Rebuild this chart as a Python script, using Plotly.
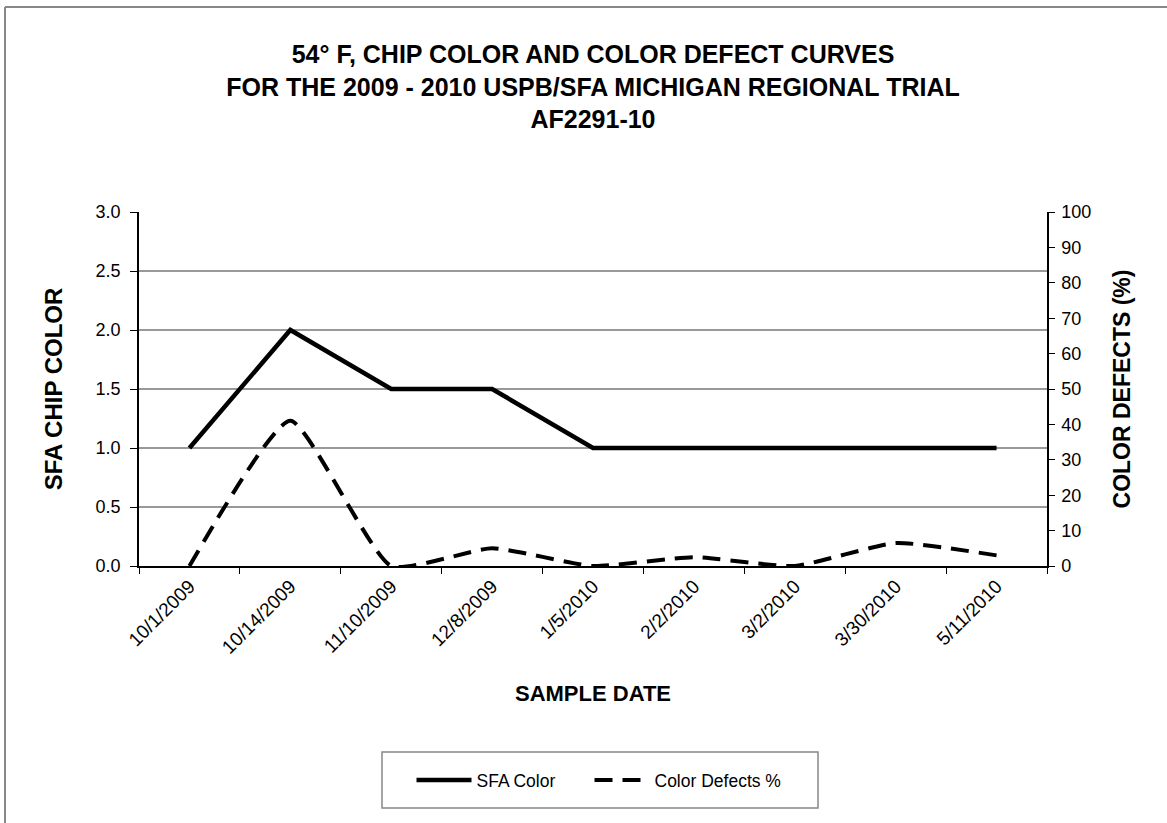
import plotly.graph_objects as go

dates = ["10/1/2009", "10/14/2009", "11/10/2009", "12/8/2009", "1/5/2010",
         "2/2/2010", "3/2/2010", "3/30/2010", "5/11/2010"]
sfa_color = [1.0, 2.0, 1.5, 1.5, 1.0, 1.0, 1.0, 1.0, 1.0]
color_defects = [0, 41, 0, 5, 0, 2.5, 0, 6.5, 3]

W, H = 1167, 823
ml, mr, mt, mb = 139, 120, 212, 257
pw, ph = W - ml - mr, H - mt - mb

def px_x(x):
    return (x - ml) / pw

def px_y(y):
    return (H - mb - y) / ph

fig = go.Figure()
fig.add_trace(go.Scatter(
    x=dates, y=sfa_color, name="SFA Color", mode="lines",
    line=dict(color="black", width=4.5), yaxis="y", legendwidth=108))
fig.add_trace(go.Scatter(
    x=dates, y=color_defects, name="Color Defects %", mode="lines",
    line=dict(color="black", width=4, dash="18px,10px", shape="spline", smoothing=0.5),
    yaxis="y2", legendwidth=135))

font = "Liberation Sans, Arial, sans-serif"

fig.update_layout(
    width=W, height=H,
    margin=dict(l=ml, r=mr, t=mt, b=mb, autoexpand=False),
    paper_bgcolor="white", plot_bgcolor="white",
    font=dict(family=font, size=17, color="black"),
    title=dict(
        text="54° F, CHIP COLOR AND COLOR DEFECT CURVES<br>FOR THE 2009 - 2010 USPB/SFA MICHIGAN REGIONAL TRIAL<br>AF2291-10",
        font=dict(family=font, size=25, color="black", weight="bold"),
        x=px_x(593), xref="paper", xanchor="center",
        y=1 - 63 / H, yanchor="top"),
    xaxis=dict(
        type="category", tickangle=-45, tickson="boundaries",
        ticks="outside", ticklen=6, tickcolor="black",
        showline=True, linecolor="black", linewidth=1.5,
        showgrid=False, tickfont=dict(size=19),
        title=dict(text="SAMPLE DATE", font=dict(size=22, weight="bold"), standoff=29),
        range=[-0.5, 8.5]),
    yaxis=dict(
        range=[0, 3.0], dtick=0.5, tickformat=".1f",
        ticks="outside", ticklen=7, tickcolor="black",
        showline=True, linecolor="black", linewidth=1.5,
        showgrid=True, gridcolor="#999999", gridwidth=1.5,
        zeroline=False, tickfont=dict(size=18), ticklabelstandoff=6,
        title=dict(text="SFA CHIP COLOR", font=dict(size=24, weight="bold"), standoff=26)),
    yaxis2=dict(
        range=[0, 100], dtick=10, overlaying="y", side="right",
        ticks="outside", ticklen=6, tickcolor="black",
        showline=True, linecolor="black", linewidth=1.5,
        showgrid=False, zeroline=False, tickfont=dict(size=18), ticklabelstandoff=3,
        title=dict(text="COLOR DEFECTS (%)", font=dict(size=23, weight="bold"), standoff=24)),
    legend=dict(
        orientation="h", x=px_x(603), xanchor="center",
        y=px_y(780), yanchor="middle",
        borderwidth=0, bgcolor="rgba(0,0,0,0)",
        font=dict(size=17.5), itemwidth=55, tracegroupgap=0),
    showlegend=True,
    shapes=[
        dict(type="rect", xref="paper", yref="paper",
             x0=px_x(382), x1=px_x(818), y0=px_y(752), y1=px_y(808),
             line=dict(color="#888888", width=1.5), fillcolor="rgba(0,0,0,0)"),
        dict(type="line", xref="paper", yref="paper",
             x0=px_x(5), x1=px_x(W + 5), y0=px_y(7), y1=px_y(7),
             line=dict(color="#888888", width=2)),
        dict(type="line", xref="paper", yref="paper",
             x0=px_x(5), x1=px_x(5), y0=px_y(7), y1=px_y(H + 5),
             line=dict(color="#888888", width=2)),
    ],
)

fig.write_html("out.html", config={"displayModeBar": False},
               post_script="document.body.style.margin='0px';")
